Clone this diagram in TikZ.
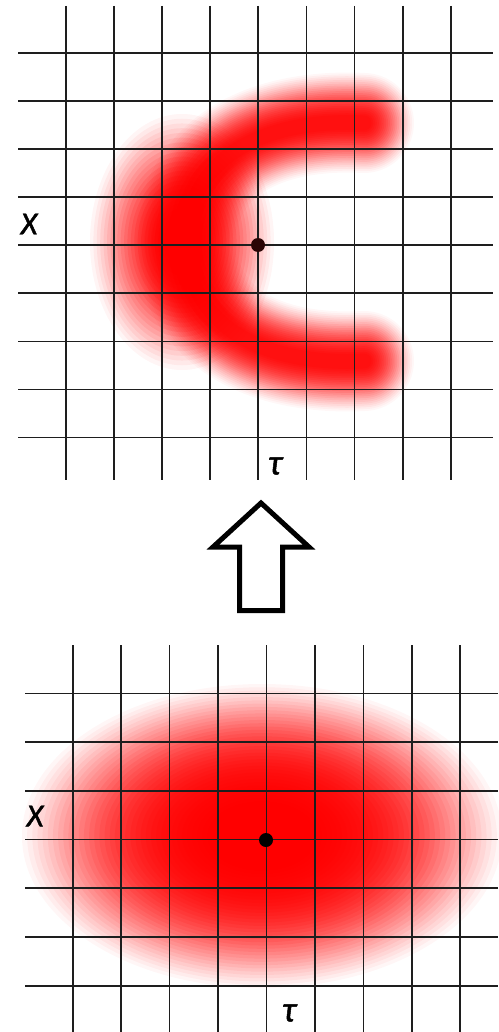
\documentclass[tikz,border=0pt]{standalone}
\usepackage{fontspec}
\newfontfamily\labfont[FakeBold=1.4]{Carlito}
\definecolor{gridcol}{HTML}{1E1E1E}
\definecolor{dotcol}{HTML}{2A0505}
\tikzset{
  gridline/.style={line width=1.7pt, draw=gridcol},
  lab/.style={font=\labfont\itshape\fontsize{32}{32}\selectfont, inner sep=0pt, text=black},
  tlab/.style={font=\labfont\itshape\fontsize{36}{36}\selectfont, inner sep=0pt, text=black},
  halo/.style={draw=red, line cap=round, line join=round},
  bigarrow/.style={draw=black, line width=5pt, miter limit=10, fill=white}
}
\begin{document}
\begin{tikzpicture}[x=1pt,y=-1pt]
\useasboundingbox (0,0) rectangle (498,1032);
\fill[white] (0,0) rectangle (498,1032);

% ---------- top: crescent (layered soft strokes) ----------
\foreach \k in {0,...,23}{
  \pgfmathsetmacro{\w}{100-3.7*\k}
  \pgfmathsetmacro{\a}{0.03+0.14*\k/23}
  \draw[halo, line width=\w pt, draw opacity=\a]
    (364,123) .. controls (290,119) and (192,140) .. (184,242)
    .. controls (192,344) and (290,365) .. (364,361);
}
\foreach \k in {0,...,23}{
  \pgfmathsetmacro{\s}{1-0.037*\k}
  \pgfmathsetmacro{\a}{0.04+0.16*\k/23}
  \fill[red, fill opacity=\a] (182,242) ellipse ({92*\s} and {128*\s});
}

\foreach \i in {0,...,8}
  \draw[gridline] ({65.7+48.15*\i},6) -- ({65.7+48.15*\i},480);
\foreach \j in {0,...,8}
  \draw[gridline] (18,{52.8+48.1*\j}) -- (493,{52.8+48.1*\j});

\fill[dotcol] (258,245) circle (7);
\node[lab] (xtop) at (29,224) {X};
\node[tlab] (ttop) at (275,466) {τ};

% ---------- arrow ----------
\draw[bigarrow] (261,503) -- (309,547) -- (282.5,547) -- (282.5,610.5)
  -- (239.5,610.5) -- (239.5,547) -- (213,547) -- cycle;

% ---------- bottom: soft ellipse ----------
\foreach \k in {0,...,39}{
  \pgfmathsetmacro{\s}{1-0.0215*\k}
  \pgfmathsetmacro{\a}{0.035+0.16*\k/39}
  \fill[red, fill opacity=\a] (262,836) ellipse ({240*\s} and {152*\s});
}

\foreach \i in {0,...,8}
  \draw[gridline] ({72.7+48.45*\i},645) -- ({72.7+48.45*\i},1032);
\foreach \j in {0,...,6}
  \draw[gridline] (25,{693.5+48.7*\j}) -- (498,{693.5+48.7*\j});

\fill[black] (266,840) circle (7);
\node[lab] (xbot) at (35,816) {X};
\node[tlab] (tbot) at (289,1013) {τ};
\end{tikzpicture}
\end{document}
